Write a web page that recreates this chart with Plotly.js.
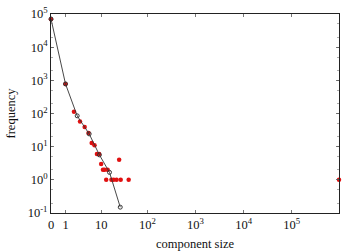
<!DOCTYPE html>
<html>
<head>
<meta charset="utf-8">
<script src="https://cdn.plot.ly/plotly-3.0.1.min.js"></script>
<style>html,body{margin:0;padding:0;background:#fff;}#chart{width:360px;height:252px;}</style>
</head>
<body>
<div id="chart"></div>
<script>
// observed component-size distribution (red dots)
const sizes = [0, 1, 2, 3, 4, 5, 6, 7, 8, 9, 10, 11, 12, 14, 13, 17, 19, 22, 27, 40, 25, 955000];
const freqs = [70000, 780, 112, 57, 39, 26, 13, 11, 6, 6, 3, 2, 2, 2, 1, 1, 1, 1, 1, 1, 4, 1];
// binned / fitted curve (black line)
const binSizes = [0, 1, 2.5, 5.2, 9.1, 15.4, 26.4];
const binFreqs = [70800, 780, 85, 24.3, 5.66, 1.68, 0.15];
// x tick labels (axis is log(size+1))
const xTickSizes = [0, 1, 10, 100, 1000, 10000, 100000];
const xTickText = ['0', '1', '10', '10<sup>2</sup>', '10<sup>3</sup>', '10<sup>4</sup>', '10<sup>5</sup>'];
// y tick labels
const yTickVals = [0.1, 1, 10, 100, 1000, 10000, 100000];
const yTickText = ['10<sup>-1</sup>', '10<sup>0</sup>', '10<sup>1</sup>', '10<sup>2</sup>', '10<sup>3</sup>', '10<sup>4</sup>', '10<sup>5</sup>'];
const maxSize = 955000;

const shift = v => v + 1;
const font = {family: 'Times New Roman, Liberation Serif, DejaVu Serif, serif', size: 12.5, color: '#111'};

const traces = [
  {
    x: sizes.map(shift), y: freqs, type: 'scatter', mode: 'markers',
    marker: {color: '#e01010', size: 4.5, symbol: 'circle'},
    cliponaxis: false, hoverinfo: 'skip'
  },
  {
    x: binSizes.map(shift), y: binFreqs, type: 'scatter', mode: 'lines+markers',
    line: {color: '#333', width: 0.9},
    marker: {color: 'rgba(0,0,0,0)', size: 4, symbol: 'circle', line: {color: '#333', width: 1}},
    cliponaxis: false, hoverinfo: 'skip'
  }
];

const layout = {
  width: 360, height: 252,
  margin: {l: 51, r: 21, t: 14, b: 39},
  paper_bgcolor: '#fff', plot_bgcolor: '#fff',
  showlegend: false,
  font: font,
  xaxis: {
    type: 'log',
    range: [0, Math.log10(maxSize + 1)],
    tickvals: xTickSizes.map(shift), ticktext: xTickText,
    ticks: 'inside', ticklen: 3, tickcolor: '#555', tickwidth: 0.8,
    showline: true, linecolor: '#222', linewidth: 1, mirror: 'ticks',
    showgrid: false, zeroline: false,
    tickfont: font,
    title: {text: 'component size', font: font, standoff: 8}
  },
  yaxis: {
    type: 'log',
    range: [-1, 5],
    tickvals: yTickVals, ticktext: yTickText,
    ticks: 'inside', ticklen: 3, tickcolor: '#555', tickwidth: 0.8,
    minor: {ticks: 'inside', ticklen: 2, dtick: 'D2', tickcolor: '#777', tickwidth: 0.6, showgrid: false},
    showline: true, linecolor: '#222', linewidth: 1, mirror: 'ticks',
    showgrid: false, zeroline: false,
    tickfont: font,
    title: {text: 'frequency', font: font, standoff: 9}
  }
};

Plotly.newPlot('chart', traces, layout, {staticPlot: true, displayModeBar: false});
</script>
</body>
</html>
